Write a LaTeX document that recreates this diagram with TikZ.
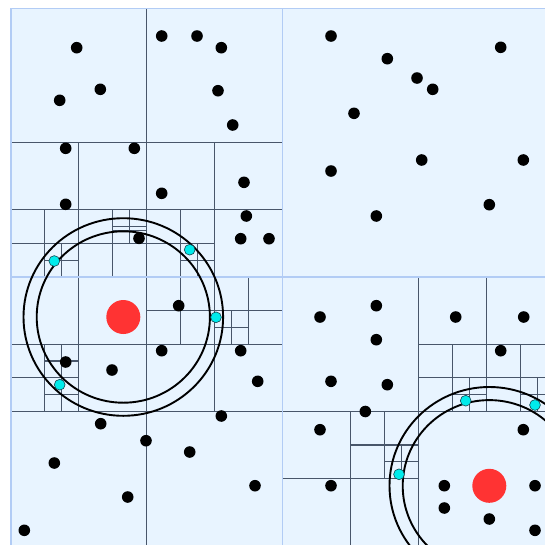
\documentclass[tikz,border=0pt]{standalone}
\usetikzlibrary{calc}
\definecolor{bgblue}{RGB}{232,244,255}
\definecolor{lightline}{RGB}{178,204,245}
\definecolor{darkline}{RGB}{72,86,106}
\definecolor{hitcyan}{RGB}{0,235,235}
\definecolor{hitedge}{RGB}{20,70,80}
\definecolor{qred}{RGB}{255,51,51}
\tikzset{
  cellline/.style={draw=darkline, line width=1.05pt},
  rootline/.style={draw=lightline, line width=1.4pt},
  ring/.style={draw=black, line width=1.9pt},
  pt/.style={fill=black},
  hit/.style={fill=hitcyan, draw=hitedge, line width=0.6pt},
  query/.style={fill=qred}
}
\begin{document}
\begin{tikzpicture}[x=1pt,y=-1pt]
\useasboundingbox (0,0) rectangle (545,544);
\clip (0,0) rectangle (545,544);
\fill[white] (0,0) rectangle (545,544);
\begin{scope}[shift={(11,8.3)}, x=33.96pt, y=-33.59pt]
  \fill[bgblue] (0,0) rectangle (16,16);
  % NW quadrant
  \draw[cellline] (4,0)--(4,8) (0,4)--(8,4);
  \draw[cellline] (2,4)--(2,8) (0,6)--(4,6);
  \draw[cellline] (1,6)--(1,8) (0,7)--(2,7);
  \draw[cellline] (1.5,7)--(1.5,8) (1,7.5)--(2,7.5);
  \draw[cellline] (3,6)--(3,8) (2,7)--(4,7);
  \draw[cellline] (3.5,6)--(3.5,7) (3,6.5)--(4,6.5) (3,6.625)--(4,6.625);
  \draw[cellline] (6,4)--(6,8) (4,6)--(8,6);
  \draw[cellline] (5,6)--(5,8) (4,7)--(6,7);
  \draw[cellline] (5.5,7)--(5.5,8) (5,7.5)--(6,7.5);
  % SW quadrant
  \draw[cellline] (4,8)--(4,16) (0,12)--(8,12);
  \draw[cellline] (2,8)--(2,12) (0,10)--(4,10);
  \draw[cellline] (1,10)--(1,12) (0,11)--(2,11);
  \draw[cellline] (1.5,10)--(1.5,12) (1,10.5)--(2,10.5) (1,11.5)--(2,11.5);
  \draw[cellline] (6,8)--(6,12) (4,10)--(8,10);
  \draw[cellline] (5,8)--(5,10) (4,9)--(6,9);
  \draw[cellline] (7,8)--(7,10) (6,9)--(8,9);
  \draw[cellline] (6.5,9)--(6.5,10) (6,9.5)--(7,9.5);
  % SE quadrant
  \draw[cellline] (12,8)--(12,16) (8,12)--(16,12);
  \draw[cellline] (14,8)--(14,12) (12,10)--(16,10);
  \draw[cellline] (13,10)--(13,12) (12,11)--(14,11);
  \draw[cellline] (13.5,11)--(13.5,12) (13,11.5)--(14,11.5);
  \draw[cellline] (15,10)--(15,12) (14,11)--(16,11);
  \draw[cellline] (15.5,11)--(15.5,12) (15,11.5)--(16,11.5);
  \draw[cellline] (10,12)--(10,16) (8,14)--(12,14);
  \draw[cellline] (11,12)--(11,14) (10,13)--(12,13);
  \draw[cellline] (11.5,13)--(11.5,14) (11,13.5)--(12,13.5);
  % root lines
  \draw[rootline] (0,0) rectangle (16,16);
  \draw[rootline] (8,0)--(8,16) (0,8)--(16,8);
\end{scope}
% query rings
\draw[ring] (123.3,317) ellipse [x radius=99.8, y radius=98.8];
\draw[ring] (123.3,317) ellipse [x radius=86.6, y radius=85.7];
\draw[ring] (489.3,485.8) ellipse [x radius=99.8, y radius=98.8];
\draw[ring] (489.3,485.8) ellipse [x radius=86.6, y radius=85.7];
% black points
\foreach \px/\py in {
 76.7/47.7, 161.7/36, 197/36, 221.3/47.7, 100.3/89.3, 59.7/100.3, 218/90.7,
 232.7/125, 65.7/148.3, 134.3/148.3, 244/182.3, 161.7/193.3, 65.7/204.3,
 246.3/216, 240.7/238.7, 269/238.7, 139/238.3,
 178.7/305.7, 161.7/350.7, 240.7/350.7, 65.7/362, 112/370, 257.7/381.3, 221.3/416,
 100.7/423.7, 146/440.7, 189.7/452, 54.3/463, 255/485.7, 127.7/497, 24.3/530.3,
 331/36, 387.3/58.7, 417/78, 432.7/89.3, 500.7/47.3, 354/113.3, 421.7/160,
 523.3/160, 331/171, 489.3/204.7, 376.3/216,
 376.3/305.7, 320/317, 376.3/339.7, 455.7/317, 523.7/317, 500.7/350.7,
 331/381.3, 387.3/384.7, 365.3/411.5,
 320/429.7, 523.3/429.7, 331/485.7, 444.3/485.7, 535/485.7, 444.3/508,
 489.3/519, 535/530.3}
  \fill[pt] (\px,\py) circle [radius=5.8];
% hits
\foreach \px/\py in {54.3/261, 189.7/249.7, 216/317.3, 59.7/384.7,
 465.7/400.7, 535/405, 399/474.3}
  \filldraw[hit] (\px,\py) circle [radius=5.4];
% query centres
\fill[query] (123.3,317) circle [radius=17];
\fill[query] (489.3,485.8) circle [radius=17];
\end{tikzpicture}
\end{document}
